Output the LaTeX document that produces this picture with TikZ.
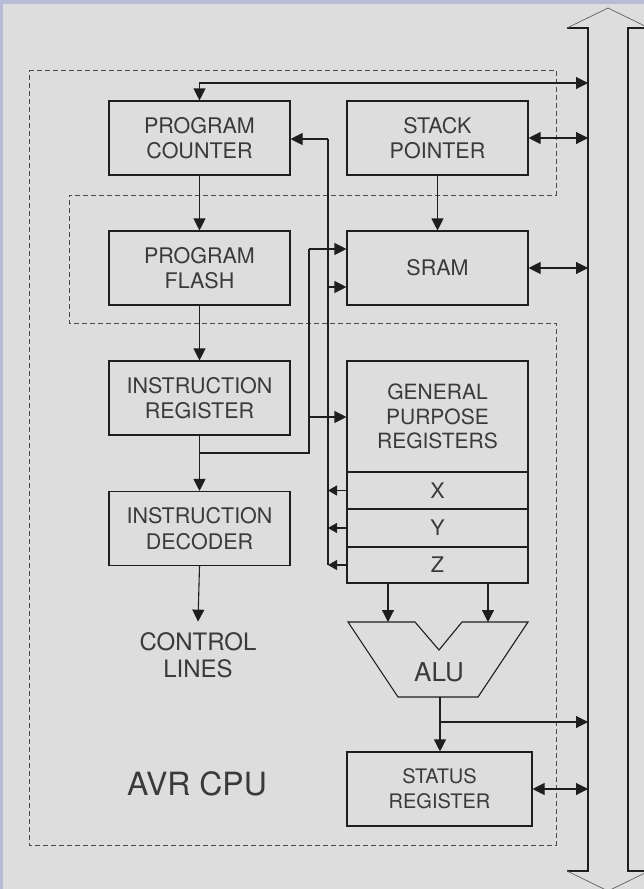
\documentclass[tikz,border=0pt]{standalone}
\usepackage{fontspec}
\setmainfont{TeX Gyre Heros}
\usetikzlibrary{arrows.meta,positioning}

\definecolor{bgray}{HTML}{DDDDDD}
\definecolor{frame}{HTML}{B8BCD6}
\definecolor{ink}{HTML}{1E1E1E}
\definecolor{txt}{HTML}{3A3A3A}

\tikzset{
  unit/.style={draw=ink, line width=1.1pt, minimum width=181pt, minimum height=74pt,
    align=center, text=txt, inner sep=0pt, font=\fontsize{21.5}{25.5}\selectfont},
  wire/.style={draw=ink, line width=1.1pt},
  arr/.style={wire, -{Triangle[length=12pt,width=12pt]}},
  darr/.style={wire, {Triangle[length=12pt,width=12pt]}-{Triangle[length=12pt,width=12pt]}},
  sarr/.style={wire, -{Triangle[length=9pt,width=10pt]}},
  cpuline/.style={draw=ink!80, line width=0.9pt, dash pattern=on 5pt off 3pt},
  label/.style={text=txt, align=center, inner sep=0pt},
}

\begin{document}
\begin{tikzpicture}[x=1pt, y=-1pt]
    \useasboundingbox (0,0) rectangle (644,889);
    \clip (0,0) rectangle (644,889);
    \fill[bgray] (0,0) rectangle (644,889);
    \fill[frame] (0,0) rectangle (644,4);
    \fill[frame] (0,0) rectangle (2.5,889);

    % CPU boundary
    \draw[cpuline] (29,70) -- (556,70) -- (556,195) -- (69,195) -- (69,323)
        -- (556,323) -- (556,845) -- (29,845) -- cycle;

    % Data bus
    \draw[wire] (567,28) -- (588,28) -- (588,871) -- (567,871);
    \draw[wire] (649,28) -- (628,28) -- (628,871) -- (649,871);
    \draw[ink!70, line width=0.7pt] (567,28) -- (608,8) -- (649,28);
    \draw[ink!70, line width=0.7pt] (567,871) -- (608,891) -- (649,871);
    \coordinate (bpc) at (588,83);
    \coordinate (bsp) at (588,138);
    \coordinate (bsram) at (588,268);
    \coordinate (balu) at (588,722);
    \coordinate (bsr) at (588,789);

    % Units
    \node[unit] (pc) at (199.5,138) {PROGRAM\\COUNTER};
    \node[unit] (sp) at (437.5,138) {STACK\\POINTER};
    \node[unit] (pf) at (199.5,268) {PROGRAM\\FLASH};
    \node[unit] (sram) at (437.5,268) {SRAM};
    \node[unit] (ir) at (199.5,398) {INSTRUCTION\\REGISTER};
    \node[unit] (id) at (199.5,528.5) {INSTRUCTION\\DECODER};

    % Register file
    \node[unit, minimum height=111pt, font=\fontsize{21}{24.5}\selectfont] (gpr) at (437.5,416.5) {GENERAL\\PURPOSE\\REGISTERS};
    \node[unit, minimum height=37pt] (rx) at (437.5,490.5) {X};
    \node[unit, minimum height=38pt] (ry) at (437.5,528) {Y};
    \node[unit, minimum height=36pt] (rz) at (437.5,565) {Z};
    \node[unit, minimum width=185pt, font=\fontsize{20}{25}\selectfont] (sr) at (439.5,789) {STATUS\\REGISTER};

    % ALU
    \draw[wire] (348,622) -- (415,622) -- (439,650) -- (462,622) -- (528,622)
        -- (478,697) -- (398,697) -- cycle;
    \node[label, font=\fontsize{26}{30}\selectfont] (alu) at (439,672) {ALU};
    \coordinate (alul) at (388,622);
    \coordinate (alur) at (488,622);
    \coordinate (aluo) at (440,697);
    \coordinate (aluj) at (440,722);

    % Texts
    \node[label, inner ysep=11pt, font=\fontsize{24}{27}\selectfont] (ctrl) at (198,655.5) {CONTROL\\LINES};
    \node[label, font=\fontsize{32}{36}\selectfont] (cpu) at (197,783.5) {AVR CPU};

    % Bus links
    \draw[darr] (pc.north) |- (bpc);
    \draw[darr] (sp.east) -- (bsp);
    \draw[darr] (sram.east) -- (bsram);
    \draw[darr] (sr.east) -- (bsr);

    % Program path
    \draw[arr] (sp.south) -- (sram.north);
    \draw[arr] (pc.south) -- (pf.north);
    \draw[arr] (pf.south) -- (ir.north);
    \draw[arr] (ir.south) -- (id.north);
    \draw[arr] (id.south) -- (ctrl.north);

    % Instruction operands
    \coordinate (irj) at (199.5,453);
    \coordinate (ja) at (309,453);
    \coordinate (jb) at (309,417);
    \coordinate (jc) at (309,249);
    \draw[wire] (irj) -- (ja) -- (jc);
    \draw[arr] (jc) -- (jc -| sram.west);
    \draw[arr] (jb) -- (jb -| gpr.west);

    % Pointer registers
    \coordinate (ka) at (328,139);
    \coordinate (kb) at (328,287);
    \coordinate (kz) at (328,565);
    \draw[wire] (ka) -- (kz);
    \draw[arr] (ka) -- (ka -| pc.east);
    \draw[arr] (kb) -- (kb -| sram.west);
    \draw[sarr] (rx.west) -- (rx.west -| kz);
    \draw[sarr] (ry.west) -- (ry.west -| kz);
    \draw[sarr] (rz.west) -- (rz.west -| kz);

    % ALU links
    \draw[arr] (rz.south -| alul) -- (alul);
    \draw[arr] (rz.south -| alur) -- (alur);
    \draw[arr] (aluo) -- (aluo |- sr.north);
    \draw[arr] (aluj) -- (balu);
\end{tikzpicture}
\end{document}
